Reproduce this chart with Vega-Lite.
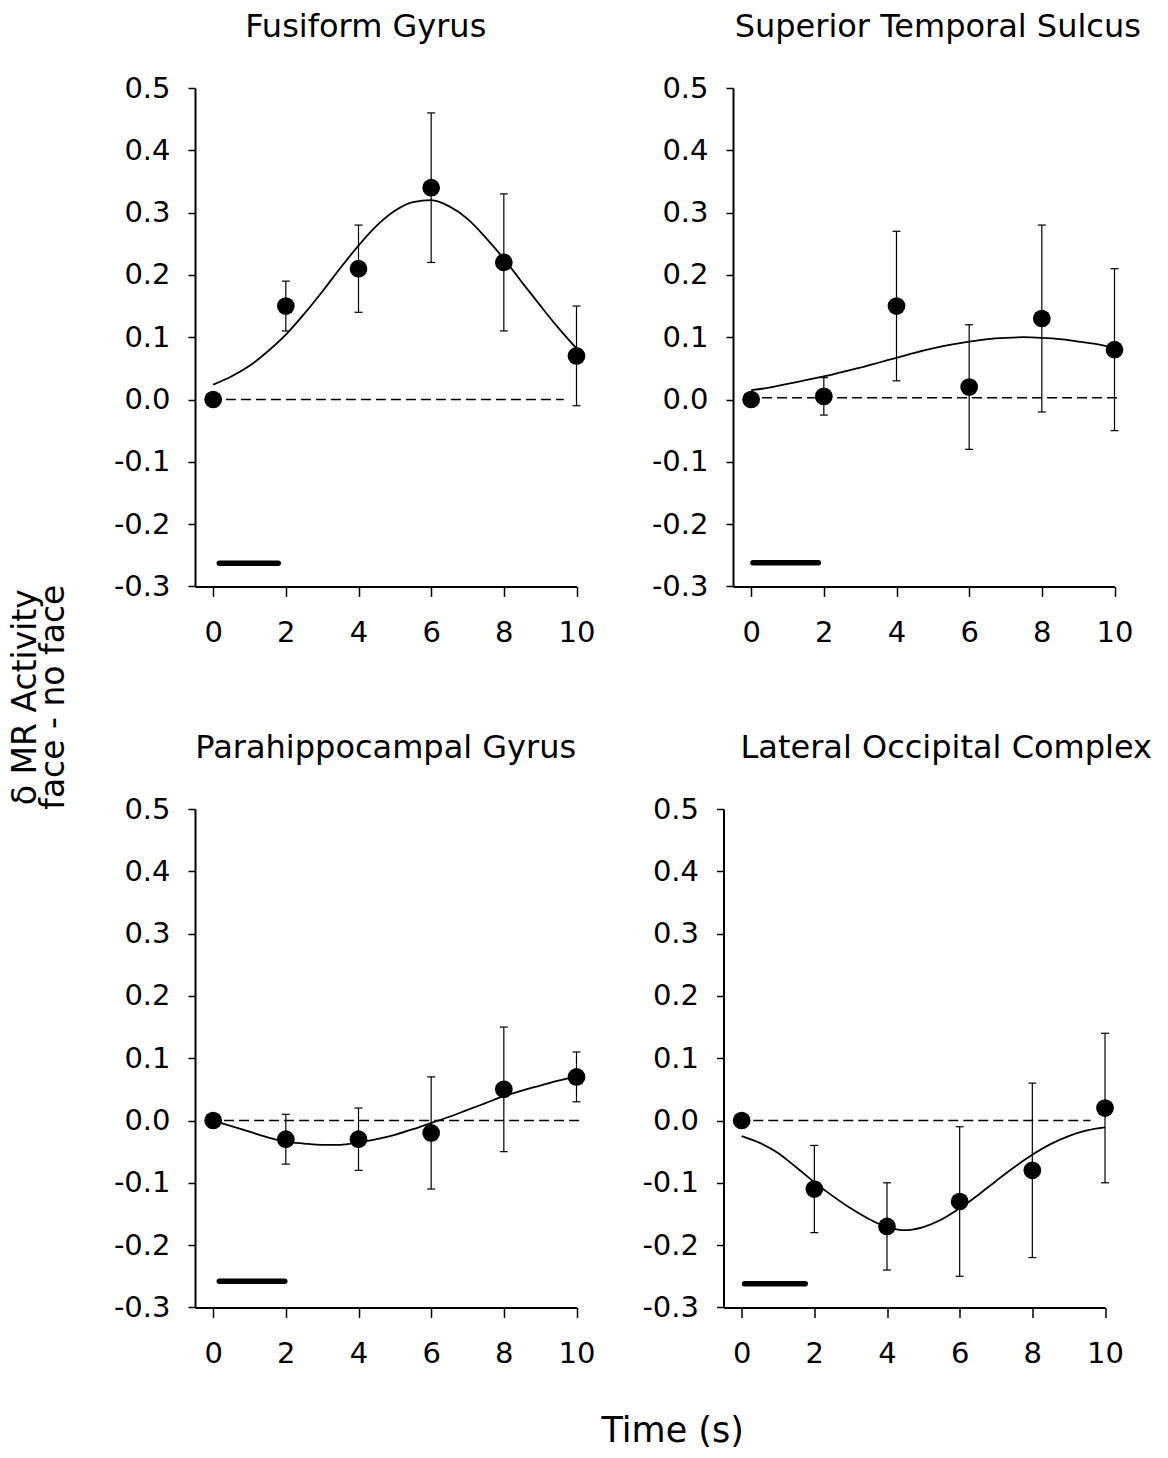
{
  "$schema": "https://vega.github.io/schema/vega-lite/v6.json",
  "padding": {"left": 10, "top": 11, "right": 5, "bottom": 5},
  "background": "white",
  "config": {
    "font": "DejaVu Sans",
    "view": {"stroke": null},
    "axis": {"domainColor": "black", "domainWidth": 2, "tickColor": "black", "tickWidth": 1.5, "labelColor": "black", "labelFontSize": 29, "labelFont": "DejaVu Sans", "grid": false},
    "axisX": {"tickSize": 10, "labelPadding": 22},
    "axisY": {"tickSize": 7, "labelPadding": 18},
    "title": {"fontSize": 32, "fontWeight": "normal", "color": "black", "font": "DejaVu Sans", "offset": 30}
  },
  "datasets": {
    "points": [
      {"panel": "FG", "t": 0, "v": 0},
      {"panel": "FG", "t": 2, "v": 0.15, "lo": 0.11, "hi": 0.19},
      {"panel": "FG", "t": 4, "v": 0.21, "lo": 0.14, "hi": 0.28},
      {"panel": "FG", "t": 6, "v": 0.34, "lo": 0.22, "hi": 0.46},
      {"panel": "FG", "t": 8, "v": 0.22, "lo": 0.11, "hi": 0.33},
      {"panel": "FG", "t": 10, "v": 0.07, "lo": -0.01, "hi": 0.15},
      {"panel": "STS", "t": 0, "v": 0},
      {"panel": "STS", "t": 2, "v": 0.005, "lo": -0.025, "hi": 0.035},
      {"panel": "STS", "t": 4, "v": 0.15, "lo": 0.03, "hi": 0.27},
      {"panel": "STS", "t": 6, "v": 0.02, "lo": -0.08, "hi": 0.12},
      {"panel": "STS", "t": 8, "v": 0.13, "lo": -0.02, "hi": 0.28},
      {"panel": "STS", "t": 10, "v": 0.08, "lo": -0.05, "hi": 0.21},
      {"panel": "PHG", "t": 0, "v": 0},
      {"panel": "PHG", "t": 2, "v": -0.03, "lo": -0.07, "hi": 0.01},
      {"panel": "PHG", "t": 4, "v": -0.03, "lo": -0.08, "hi": 0.02},
      {"panel": "PHG", "t": 6, "v": -0.02, "lo": -0.11, "hi": 0.07},
      {"panel": "PHG", "t": 8, "v": 0.05, "lo": -0.05, "hi": 0.15},
      {"panel": "PHG", "t": 10, "v": 0.07, "lo": 0.03, "hi": 0.11},
      {"panel": "LOC", "t": 0, "v": 0},
      {"panel": "LOC", "t": 2, "v": -0.11, "lo": -0.18, "hi": -0.04},
      {"panel": "LOC", "t": 4, "v": -0.17, "lo": -0.24, "hi": -0.10},
      {"panel": "LOC", "t": 6, "v": -0.13, "lo": -0.25, "hi": -0.01},
      {"panel": "LOC", "t": 8, "v": -0.08, "lo": -0.22, "hi": 0.06},
      {"panel": "LOC", "t": 10, "v": 0.02, "lo": -0.10, "hi": 0.14}
    ],
    "curves": [
      {"panel": "FG", "t": 0, "v": 0.024}, {"panel": "FG", "t": 0.5, "v": 0.037}, {"panel": "FG", "t": 1, "v": 0.054}, {"panel": "FG", "t": 1.5, "v": 0.077}, {"panel": "FG", "t": 2, "v": 0.104}, {"panel": "FG", "t": 2.5, "v": 0.137}, {"panel": "FG", "t": 3, "v": 0.173}, {"panel": "FG", "t": 3.5, "v": 0.211}, {"panel": "FG", "t": 4, "v": 0.247}, {"panel": "FG", "t": 4.5, "v": 0.279}, {"panel": "FG", "t": 5, "v": 0.303}, {"panel": "FG", "t": 5.5, "v": 0.317}, {"panel": "FG", "t": 6, "v": 0.320}, {"panel": "FG", "t": 6.5, "v": 0.310}, {"panel": "FG", "t": 7, "v": 0.290}, {"panel": "FG", "t": 7.5, "v": 0.260}, {"panel": "FG", "t": 8, "v": 0.226}, {"panel": "FG", "t": 8.5, "v": 0.188}, {"panel": "FG", "t": 9, "v": 0.151}, {"panel": "FG", "t": 9.5, "v": 0.115}, {"panel": "FG", "t": 10, "v": 0.082},
      {"panel": "STS", "t": 0, "v": 0.015}, {"panel": "STS", "t": 0.5, "v": 0.019}, {"panel": "STS", "t": 1, "v": 0.025}, {"panel": "STS", "t": 1.5, "v": 0.031}, {"panel": "STS", "t": 2, "v": 0.037}, {"panel": "STS", "t": 2.5, "v": 0.044}, {"panel": "STS", "t": 3, "v": 0.051}, {"panel": "STS", "t": 3.5, "v": 0.059}, {"panel": "STS", "t": 4, "v": 0.067}, {"panel": "STS", "t": 4.5, "v": 0.075}, {"panel": "STS", "t": 5, "v": 0.082}, {"panel": "STS", "t": 5.5, "v": 0.088}, {"panel": "STS", "t": 6, "v": 0.093}, {"panel": "STS", "t": 6.5, "v": 0.097}, {"panel": "STS", "t": 7, "v": 0.099}, {"panel": "STS", "t": 7.5, "v": 0.100}, {"panel": "STS", "t": 8, "v": 0.099}, {"panel": "STS", "t": 8.5, "v": 0.097}, {"panel": "STS", "t": 9, "v": 0.093}, {"panel": "STS", "t": 9.5, "v": 0.089}, {"panel": "STS", "t": 10, "v": 0.083},
      {"panel": "PHG", "t": 0, "v": 0}, {"panel": "PHG", "t": 0.5, "v": -0.009}, {"panel": "PHG", "t": 1, "v": -0.018}, {"panel": "PHG", "t": 1.5, "v": -0.027}, {"panel": "PHG", "t": 2, "v": -0.034}, {"panel": "PHG", "t": 2.5, "v": -0.037}, {"panel": "PHG", "t": 3, "v": -0.039}, {"panel": "PHG", "t": 3.5, "v": -0.039}, {"panel": "PHG", "t": 4, "v": -0.035}, {"panel": "PHG", "t": 4.5, "v": -0.030}, {"panel": "PHG", "t": 5, "v": -0.023}, {"panel": "PHG", "t": 5.5, "v": -0.014}, {"panel": "PHG", "t": 6, "v": -0.004}, {"panel": "PHG", "t": 6.5, "v": 0.006}, {"panel": "PHG", "t": 7, "v": 0.017}, {"panel": "PHG", "t": 7.5, "v": 0.028}, {"panel": "PHG", "t": 8, "v": 0.039}, {"panel": "PHG", "t": 8.5, "v": 0.048}, {"panel": "PHG", "t": 9, "v": 0.056}, {"panel": "PHG", "t": 9.5, "v": 0.064}, {"panel": "PHG", "t": 10, "v": 0.071},
      {"panel": "LOC", "t": 0, "v": -0.025}, {"panel": "LOC", "t": 0.5, "v": -0.036}, {"panel": "LOC", "t": 1, "v": -0.052}, {"panel": "LOC", "t": 1.5, "v": -0.075}, {"panel": "LOC", "t": 2, "v": -0.099}, {"panel": "LOC", "t": 2.5, "v": -0.121}, {"panel": "LOC", "t": 3, "v": -0.141}, {"panel": "LOC", "t": 3.5, "v": -0.158}, {"panel": "LOC", "t": 4, "v": -0.171}, {"panel": "LOC", "t": 4.5, "v": -0.176}, {"panel": "LOC", "t": 5, "v": -0.171}, {"panel": "LOC", "t": 5.5, "v": -0.159}, {"panel": "LOC", "t": 6, "v": -0.141}, {"panel": "LOC", "t": 6.5, "v": -0.120}, {"panel": "LOC", "t": 7, "v": -0.097}, {"panel": "LOC", "t": 7.5, "v": -0.075}, {"panel": "LOC", "t": 8, "v": -0.055}, {"panel": "LOC", "t": 8.5, "v": -0.038}, {"panel": "LOC", "t": 9, "v": -0.025}, {"panel": "LOC", "t": 9.5, "v": -0.016}, {"panel": "LOC", "t": 10, "v": -0.011}
    ],
    "refs": [
      {"panel": "FG", "kind": "zero", "x1": 0.35, "x2": 9.65, "y": 0},
      {"panel": "FG", "kind": "stim", "x1": 0.17, "x2": 1.79, "y": -0.263},
      {"panel": "STS", "kind": "zero", "x1": 0.3, "x2": 10.2, "y": 0.003},
      {"panel": "STS", "kind": "stim", "x1": 0.05, "x2": 1.85, "y": -0.262},
      {"panel": "PHG", "kind": "zero", "x1": 0.3, "x2": 10.1, "y": 0},
      {"panel": "PHG", "kind": "stim", "x1": 0.17, "x2": 1.97, "y": -0.258},
      {"panel": "LOC", "kind": "zero", "x1": 0.32, "x2": 9.6, "y": 0},
      {"panel": "LOC", "kind": "stim", "x1": 0.08, "x2": 1.75, "y": -0.262}
    ]
  },
  "title": {"text": ["δ MR Activity", "face - no face"], "orient": "left", "anchor": "middle", "fontSize": 33, "lineHeight": 28, "offset": 42, "dx": 33},
  "spacing": 84,
  "vconcat": [
    {
      "hconcat": [
        {
          "width": 381.5, "height": 498.4,
          "title": {"text": "Fusiform Gyrus", "frame": "group", "dx": -20},
          "layer": [
            {"data": {"name": "refs"}, "transform": [{"filter": "datum.panel === 'FG' && datum.kind === 'zero'"}], "mark": {"type": "rule", "strokeDash": [10, 5], "strokeWidth": 1.5, "color": "black"},
             "encoding": {"x": {"field": "x1", "type": "quantitative", "scale": {"domain": [-0.5, 10], "nice": false, "zero": false}, "axis": {"title": null, "values": [0, 2, 4, 6, 8, 10], "labelFlush": false}}, "x2": {"field": "x2"}, "y": {"field": "y", "type": "quantitative", "scale": {"domain": [-0.3, 0.5], "nice": false, "zero": false}, "axis": {"title": null, "values": [-0.3, -0.2, -0.1, 0, 0.1, 0.2, 0.3, 0.4, 0.5], "labelExpr": "replace(format(datum.value, '.1f'), '−', '-')"}}}},
            {"data": {"name": "refs"}, "transform": [{"filter": "datum.panel === 'FG' && datum.kind === 'stim'"}], "mark": {"type": "rule", "strokeWidth": 5.5, "strokeCap": "round", "color": "black"},
             "encoding": {"x": {"field": "x1", "type": "quantitative"}, "x2": {"field": "x2"}, "y": {"field": "y", "type": "quantitative"}}},
            {"data": {"name": "curves"}, "transform": [{"filter": "datum.panel === 'FG'"}], "mark": {"type": "line", "interpolate": "monotone", "strokeWidth": 1.8, "color": "black"},
             "encoding": {"x": {"field": "t", "type": "quantitative"}, "y": {"field": "v", "type": "quantitative"}}},
            {"data": {"name": "points"}, "transform": [{"filter": "datum.panel === 'FG'"}], "mark": {"type": "rule", "strokeWidth": 1.2, "color": "black"},
             "encoding": {"x": {"field": "t", "type": "quantitative"}, "y": {"field": "lo", "type": "quantitative"}, "y2": {"field": "hi"}}},
            {"data": {"name": "points"}, "transform": [{"filter": "datum.panel === 'FG'"}], "mark": {"type": "tick", "orient": "horizontal", "size": 8, "thickness": 1.2, "color": "black", "opacity": 1},
             "encoding": {"x": {"field": "t", "type": "quantitative"}, "y": {"field": "lo", "type": "quantitative"}}},
            {"data": {"name": "points"}, "transform": [{"filter": "datum.panel === 'FG'"}], "mark": {"type": "tick", "orient": "horizontal", "size": 8, "thickness": 1.2, "color": "black", "opacity": 1},
             "encoding": {"x": {"field": "t", "type": "quantitative"}, "y": {"field": "hi", "type": "quantitative"}}},
            {"data": {"name": "points"}, "transform": [{"filter": "datum.panel === 'FG'"}], "mark": {"type": "circle", "size": 314, "color": "black", "opacity": 1},
             "encoding": {"x": {"field": "t", "type": "quantitative"}, "y": {"field": "v", "type": "quantitative"}}}
          ]
        },
        {
          "width": 381.5, "height": 498.4,
          "title": {"text": "Superior Temporal Sulcus", "frame": "group", "dx": 14},
          "layer": [
            {"data": {"name": "refs"}, "transform": [{"filter": "datum.panel === 'STS' && datum.kind === 'zero'"}], "mark": {"type": "rule", "strokeDash": [10, 5], "strokeWidth": 1.5, "color": "black"},
             "encoding": {"x": {"field": "x1", "type": "quantitative", "scale": {"domain": [-0.5, 10], "nice": false, "zero": false}, "axis": {"title": null, "values": [0, 2, 4, 6, 8, 10], "labelFlush": false}}, "x2": {"field": "x2"}, "y": {"field": "y", "type": "quantitative", "scale": {"domain": [-0.3, 0.5], "nice": false, "zero": false}, "axis": {"title": null, "values": [-0.3, -0.2, -0.1, 0, 0.1, 0.2, 0.3, 0.4, 0.5], "labelExpr": "replace(format(datum.value, '.1f'), '−', '-')"}}}},
            {"data": {"name": "refs"}, "transform": [{"filter": "datum.panel === 'STS' && datum.kind === 'stim'"}], "mark": {"type": "rule", "strokeWidth": 5.5, "strokeCap": "round", "color": "black"},
             "encoding": {"x": {"field": "x1", "type": "quantitative"}, "x2": {"field": "x2"}, "y": {"field": "y", "type": "quantitative"}}},
            {"data": {"name": "curves"}, "transform": [{"filter": "datum.panel === 'STS'"}], "mark": {"type": "line", "interpolate": "monotone", "strokeWidth": 1.8, "color": "black"},
             "encoding": {"x": {"field": "t", "type": "quantitative"}, "y": {"field": "v", "type": "quantitative"}}},
            {"data": {"name": "points"}, "transform": [{"filter": "datum.panel === 'STS'"}], "mark": {"type": "rule", "strokeWidth": 1.2, "color": "black"},
             "encoding": {"x": {"field": "t", "type": "quantitative"}, "y": {"field": "lo", "type": "quantitative"}, "y2": {"field": "hi"}}},
            {"data": {"name": "points"}, "transform": [{"filter": "datum.panel === 'STS'"}], "mark": {"type": "tick", "orient": "horizontal", "size": 8, "thickness": 1.2, "color": "black", "opacity": 1},
             "encoding": {"x": {"field": "t", "type": "quantitative"}, "y": {"field": "lo", "type": "quantitative"}}},
            {"data": {"name": "points"}, "transform": [{"filter": "datum.panel === 'STS'"}], "mark": {"type": "tick", "orient": "horizontal", "size": 8, "thickness": 1.2, "color": "black", "opacity": 1},
             "encoding": {"x": {"field": "t", "type": "quantitative"}, "y": {"field": "hi", "type": "quantitative"}}},
            {"data": {"name": "points"}, "transform": [{"filter": "datum.panel === 'STS'"}], "mark": {"type": "circle", "size": 314, "color": "black", "opacity": 1},
             "encoding": {"x": {"field": "t", "type": "quantitative"}, "y": {"field": "v", "type": "quantitative"}}}
          ]
        }
      ],
      "spacing": 156,
      "bounds": "flush"
    },
    {
      "title": {"text": "Time (s)", "orient": "bottom", "anchor": "middle", "offset": 46, "dx": 40, "fontSize": 35},
      "hconcat": [
        {
          "width": 381.5, "height": 498.4,
          "title": {"text": "Parahippocampal Gyrus", "frame": "group", "dx": 0},
          "layer": [
            {"data": {"name": "refs"}, "transform": [{"filter": "datum.panel === 'PHG' && datum.kind === 'zero'"}], "mark": {"type": "rule", "strokeDash": [10, 5], "strokeWidth": 1.5, "color": "black"},
             "encoding": {"x": {"field": "x1", "type": "quantitative", "scale": {"domain": [-0.5, 10], "nice": false, "zero": false}, "axis": {"title": null, "values": [0, 2, 4, 6, 8, 10], "labelFlush": false}}, "x2": {"field": "x2"}, "y": {"field": "y", "type": "quantitative", "scale": {"domain": [-0.3, 0.5], "nice": false, "zero": false}, "axis": {"title": null, "values": [-0.3, -0.2, -0.1, 0, 0.1, 0.2, 0.3, 0.4, 0.5], "labelExpr": "replace(format(datum.value, '.1f'), '−', '-')"}}}},
            {"data": {"name": "refs"}, "transform": [{"filter": "datum.panel === 'PHG' && datum.kind === 'stim'"}], "mark": {"type": "rule", "strokeWidth": 5.5, "strokeCap": "round", "color": "black"},
             "encoding": {"x": {"field": "x1", "type": "quantitative"}, "x2": {"field": "x2"}, "y": {"field": "y", "type": "quantitative"}}},
            {"data": {"name": "curves"}, "transform": [{"filter": "datum.panel === 'PHG'"}], "mark": {"type": "line", "interpolate": "monotone", "strokeWidth": 1.8, "color": "black"},
             "encoding": {"x": {"field": "t", "type": "quantitative"}, "y": {"field": "v", "type": "quantitative"}}},
            {"data": {"name": "points"}, "transform": [{"filter": "datum.panel === 'PHG'"}], "mark": {"type": "rule", "strokeWidth": 1.2, "color": "black"},
             "encoding": {"x": {"field": "t", "type": "quantitative"}, "y": {"field": "lo", "type": "quantitative"}, "y2": {"field": "hi"}}},
            {"data": {"name": "points"}, "transform": [{"filter": "datum.panel === 'PHG'"}], "mark": {"type": "tick", "orient": "horizontal", "size": 8, "thickness": 1.2, "color": "black", "opacity": 1},
             "encoding": {"x": {"field": "t", "type": "quantitative"}, "y": {"field": "lo", "type": "quantitative"}}},
            {"data": {"name": "points"}, "transform": [{"filter": "datum.panel === 'PHG'"}], "mark": {"type": "tick", "orient": "horizontal", "size": 8, "thickness": 1.2, "color": "black", "opacity": 1},
             "encoding": {"x": {"field": "t", "type": "quantitative"}, "y": {"field": "hi", "type": "quantitative"}}},
            {"data": {"name": "points"}, "transform": [{"filter": "datum.panel === 'PHG'"}], "mark": {"type": "circle", "size": 314, "color": "black", "opacity": 1},
             "encoding": {"x": {"field": "t", "type": "quantitative"}, "y": {"field": "v", "type": "quantitative"}}}
          ]
        },
        {
          "width": 381.5, "height": 498.4,
          "title": {"text": "Lateral Occipital Complex", "frame": "group", "dx": 32},
          "layer": [
            {"data": {"name": "refs"}, "transform": [{"filter": "datum.panel === 'LOC' && datum.kind === 'zero'"}], "mark": {"type": "rule", "strokeDash": [10, 5], "strokeWidth": 1.5, "color": "black"},
             "encoding": {"x": {"field": "x1", "type": "quantitative", "scale": {"domain": [-0.5, 10], "nice": false, "zero": false}, "axis": {"title": null, "values": [0, 2, 4, 6, 8, 10], "labelFlush": false}}, "x2": {"field": "x2"}, "y": {"field": "y", "type": "quantitative", "scale": {"domain": [-0.3, 0.5], "nice": false, "zero": false}, "axis": {"title": null, "values": [-0.3, -0.2, -0.1, 0, 0.1, 0.2, 0.3, 0.4, 0.5], "labelExpr": "replace(format(datum.value, '.1f'), '−', '-')"}}}},
            {"data": {"name": "refs"}, "transform": [{"filter": "datum.panel === 'LOC' && datum.kind === 'stim'"}], "mark": {"type": "rule", "strokeWidth": 5.5, "strokeCap": "round", "color": "black"},
             "encoding": {"x": {"field": "x1", "type": "quantitative"}, "x2": {"field": "x2"}, "y": {"field": "y", "type": "quantitative"}}},
            {"data": {"name": "curves"}, "transform": [{"filter": "datum.panel === 'LOC'"}], "mark": {"type": "line", "interpolate": "monotone", "strokeWidth": 1.8, "color": "black"},
             "encoding": {"x": {"field": "t", "type": "quantitative"}, "y": {"field": "v", "type": "quantitative"}}},
            {"data": {"name": "points"}, "transform": [{"filter": "datum.panel === 'LOC'"}], "mark": {"type": "rule", "strokeWidth": 1.2, "color": "black"},
             "encoding": {"x": {"field": "t", "type": "quantitative"}, "y": {"field": "lo", "type": "quantitative"}, "y2": {"field": "hi"}}},
            {"data": {"name": "points"}, "transform": [{"filter": "datum.panel === 'LOC'"}], "mark": {"type": "tick", "orient": "horizontal", "size": 8, "thickness": 1.2, "color": "black", "opacity": 1},
             "encoding": {"x": {"field": "t", "type": "quantitative"}, "y": {"field": "lo", "type": "quantitative"}}},
            {"data": {"name": "points"}, "transform": [{"filter": "datum.panel === 'LOC'"}], "mark": {"type": "tick", "orient": "horizontal", "size": 8, "thickness": 1.2, "color": "black", "opacity": 1},
             "encoding": {"x": {"field": "t", "type": "quantitative"}, "y": {"field": "hi", "type": "quantitative"}}},
            {"data": {"name": "points"}, "transform": [{"filter": "datum.panel === 'LOC'"}], "mark": {"type": "circle", "size": 314, "color": "black", "opacity": 1},
             "encoding": {"x": {"field": "t", "type": "quantitative"}, "y": {"field": "v", "type": "quantitative"}}}
          ]
        }
      ],
      "spacing": 146.5,
      "bounds": "flush"
    }
  ]
}
